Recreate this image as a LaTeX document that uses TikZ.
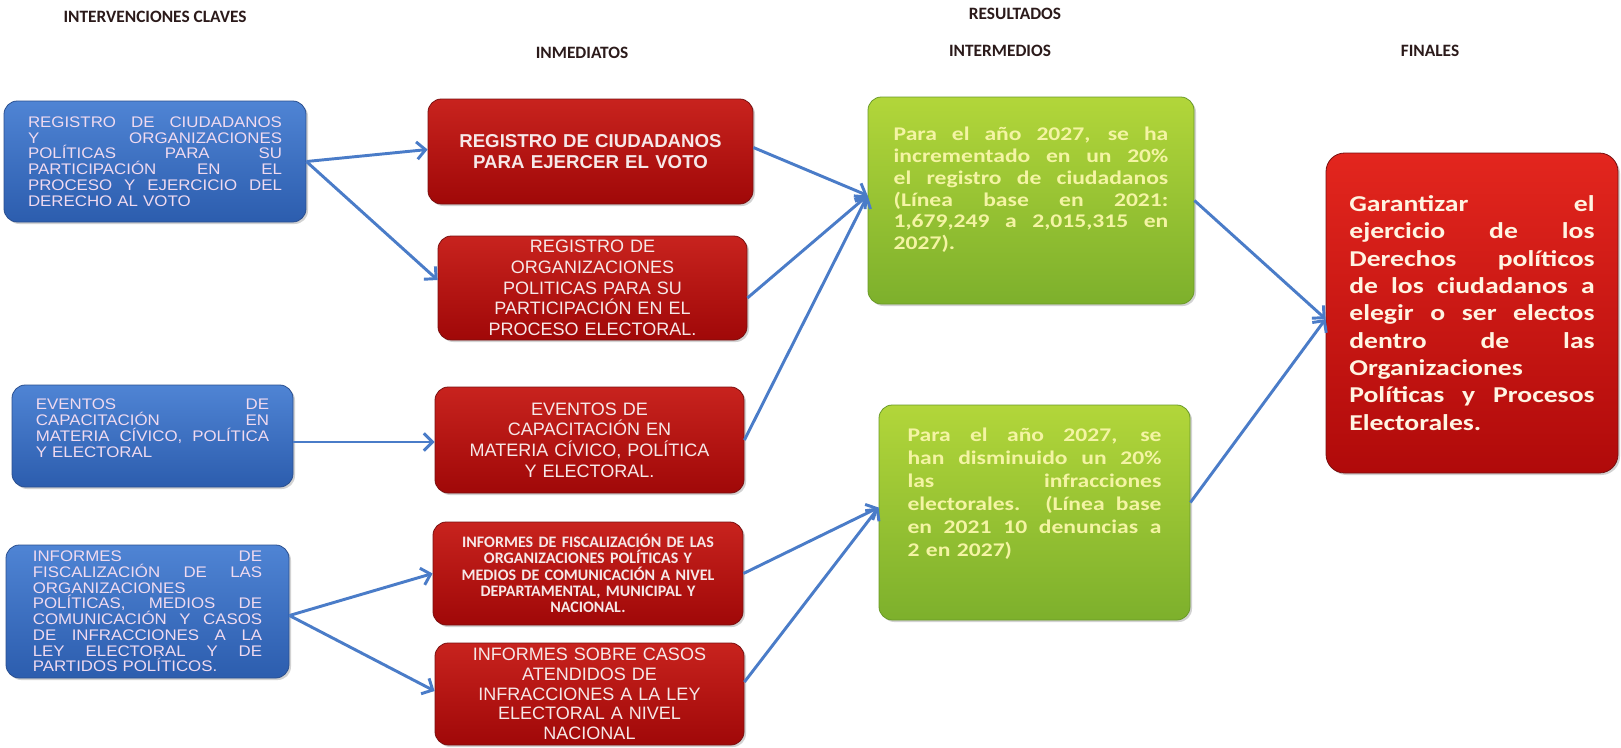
\documentclass[tikz,border=0pt]{standalone}
\usepackage{fontspec}
\setmainfont{Liberation Sans}
\newfontfamily\arialw{Liberation Sans}[FakeStretch=1.1]
\newfontfamily\calfont{Carlito}
\newfontfamily\calw{Carlito}[FakeStretch=1.22]
\usetikzlibrary{arrows.meta,shadows,calc}
\definecolor{hdrc}{HTML}{2B1A1A}
\definecolor{bluetop}{HTML}{4F84D4}
\definecolor{bluebot}{HTML}{2C5DAE}
\definecolor{blueedge}{HTML}{2A4F8F}
\definecolor{bluetxt}{HTML}{F0DAF0}
\definecolor{redtop}{HTML}{C8231E}
\definecolor{redbot}{HTML}{A00808}
\definecolor{rededge}{HTML}{7A1010}
\definecolor{redtxt}{HTML}{F6E8E8}
\definecolor{greentop}{HTML}{B2D63A}
\definecolor{greenbot}{HTML}{7DB02C}
\definecolor{greenedge}{HTML}{6A9A28}
\definecolor{greentxt}{HTML}{F4F4A4}
\definecolor{fintop}{HTML}{E3261E}
\definecolor{finbot}{HTML}{B00A0A}
\definecolor{fintxt}{HTML}{FFF4E2}
\definecolor{arrc}{HTML}{4A7CC8}
\newcommand\jl[1]{\makebox[\hsize][s]{\spaceskip=0pt\relax\xspaceskip=0pt\relax#1}}
\begin{document}
\begin{tikzpicture}[x=0.75pt,y=-0.75pt,
  hdr/.style={font=\calfont\bfseries\fontsize{13}{15}\selectfont, text=hdrc, inner sep=0pt},
  boxbase/.style={rounded corners=10pt, line width=0.6pt, inner xsep=4pt, inner ysep=2pt,
    drop shadow={opacity=0.35, shadow xshift=1.5pt, shadow yshift=-1.5pt}},
  bluebox/.style={boxbase, top color=bluetop, bottom color=bluebot, draw=blueedge,
    text=bluetxt, align=left, font=\arialw\fontsize{11.5}{11.8}\selectfont},
  redbox/.style={boxbase, top color=redtop, bottom color=redbot, draw=rededge,
    text=redtxt, align=center, font=\fontsize{13.5}{15.5}\selectfont},
  greenbox/.style={boxbase, top color=greentop, bottom color=greenbot, draw=greenedge,
    text=greentxt, align=left, font=\calw\bfseries\fontsize{14.5}{16.3}\selectfont},
  finbox/.style={boxbase, rounded corners=14pt, top color=fintop, bottom color=finbot, draw=rededge,
    text=fintxt, align=left, font=\calw\bfseries\fontsize{17}{20.5}\selectfont},
  arr/.style={draw=arrc, line width=2.2pt, -{Straight Barb[length=6.5pt,width=13pt]}}
]
\useasboundingbox (0,0) rectangle (1621,747);
\fill[white] (0,0) rectangle (1621,747);

% headers
\node[hdr] (hIC) at (155,17) {INTERVENCIONES CLAVES};
\node[hdr] (hRES) at (1015,14) {RESULTADOS};
\node[hdr] (hINM) at (582,53) {INMEDIATOS};
\node[hdr] (hINT) at (1000,51) {INTERMEDIOS};
\node[hdr] (hFIN) at (1430,51) {FINALES};

% blue boxes
\node[bluebox, text width=190.5pt, minimum width=226.5pt, minimum height=90.75pt] (b1) at (155,161.5)
 {\jl{REGISTRO DE CIUDADANOS}\\\jl{Y ORGANIZACIONES}\\\jl{POLÍTICAS PARA SU}\\\jl{PARTICIPACIÓN EN EL}\\\jl{PROCESO Y EJERCICIO DEL}\\DERECHO AL VOTO};
\node[bluebox, text width=175pt, minimum width=210.75pt, minimum height=76.5pt] (b2) at (152.5,436)
 {\jl{EVENTOS DE}\\\jl{CAPACITACIÓN EN}\\\jl{MATERIA CÍVICO, POLÍTICA}\\Y ELECTORAL\\[0pt]\mbox{}};
\node[bluebox, text width=172pt, minimum width=212.25pt, minimum height=99.75pt] (b3) at (147.5,611.5)
 {\jl{INFORMES DE}\\\jl{FISCALIZACIÓN DE LAS}\\ORGANIZACIONES\\\jl{POLÍTICAS, MEDIOS DE}\\\jl{COMUNICACIÓN Y CASOS}\\\jl{DE INFRACCIONES A LA}\\\jl{LEY ELECTORAL Y DE}\\PARTIDOS POLÍTICOS.};

% red boxes (immediate)
\node[redbox, font=\bfseries\fontsize{14}{16}\selectfont, text width=225pt, minimum width=243.75pt, minimum height=78.75pt] (r1) at (590.5,151.5)
 {REGISTRO DE CIUDADANOS\\PARA EJERCER EL VOTO};
\node[redbox, text width=215pt, minimum width=231.75pt, minimum height=78pt] (r2) at (592.5,288)
 {REGISTRO DE\\ORGANIZACIONES\\POLITICAS PARA SU\\PARTICIPACIÓN EN EL\\PROCESO ELECTORAL.};
\node[redbox, text width=215pt, minimum width=231.75pt, minimum height=79.5pt] (r3) at (589.5,440)
 {EVENTOS DE\\CAPACITACIÓN EN\\MATERIA CÍVICO, POLÍTICA\\Y ELECTORAL.};
\node[redbox, font=\calfont\bfseries\fontsize{12}{12.3}\selectfont, text width=215pt, minimum width=232.5pt, minimum height=77.25pt] (r4) at (588,573.5)
 {INFORMES DE FISCALIZACIÓN DE LAS\\ORGANIZACIONES POLÍTICAS Y\\MEDIOS DE COMUNICACIÓN A NIVEL\\DEPARTAMENTAL, MUNICIPAL Y\\NACIONAL.};
\node[redbox, font=\fontsize{13.5}{14.8}\selectfont, inner ysep=0pt, text width=215pt, minimum width=231.75pt, minimum height=76.5pt] (r5) at (589.5,694)
 {INFORMES SOBRE CASOS\\ATENDIDOS DE\\INFRACCIONES A LA LEY\\ELECTORAL A NIVEL\\NACIONAL};

% green boxes (intermediate)
\node[greenbox, text width=206pt, minimum width=244.5pt, minimum height=155.25pt] (g1) at (1031,200.5)
 {\jl{Para el año 2027, se ha}\\\jl{incrementado en un 20\%}\\\jl{el registro de ciudadanos}\\\jl{(Línea base en 2021:}\\\jl{1,679,249 a 2,015,315 en}\\2027).\\[1.7pt]\mbox{}};
\node[greenbox, font=\calw\bfseries\fontsize{14.5}{17.3}\selectfont, text width=190.5pt, minimum width=233.25pt, minimum height=161.25pt] (g2) at (1034.5,512.5)
 {\jl{Para el año 2027, se}\\\jl{han disminuido un 20\%}\\\jl{las infracciones}\\\jl{electorales. (Línea base}\\\jl{en 2021 10 denuncias a}\\2 en 2027)\\[13pt]\mbox{}};

% final box
\node[finbox, text width=184pt, minimum width=219pt, minimum height=240pt] (fin) at (1472,313)
 {\jl{Garantizar el}\\\jl{ejercicio de los}\\\jl{Derechos políticos}\\\jl{de los ciudadanos a}\\\jl{elegir o ser electos}\\\jl{dentro de las}\\Organizaciones\\\jl{Políticas y Procesos}\\Electorales.};

% connectors
\draw[arr] (b1.east) -- ($(r1.west)+(0,-2)$);
\draw[arr] (b1.east) -- ($(r2.west)+(0,-8)$);
\draw[arr] ($(b2.east)+(0,6)$) -- ($(r3.west)+(0,2)$);
\draw[arr] ($(b3.east)+(0,4)$) -- (r4.west);
\draw[arr] ($(b3.east)+(0,4)$) -- ($(r5.west)+(0,-3)$);
\draw[arr] ($(r1.east)+(0,-4)$) -- ($(g1.west)+(0,-5)$);
\draw[arr] ($(r2.east)+(0,10)$) -- ($(g1.west)+(0,-5)$);
\draw[arr] (r3.east) -- ($(g1.west)+(0,-5)$);
\draw[arr] (r4.east) -- ($(g2.west)+(0,-5)$);
\draw[arr] ($(r5.east)+(0,-12)$) -- ($(g2.west)+(0,-5)$);
\draw[arr] (g1.east) -- ($(fin.west)+(0,6)$);
\draw[arr] ($(g2.east)+(0,-10)$) -- ($(fin.west)+(0,6)$);
\end{tikzpicture}
\end{document}
